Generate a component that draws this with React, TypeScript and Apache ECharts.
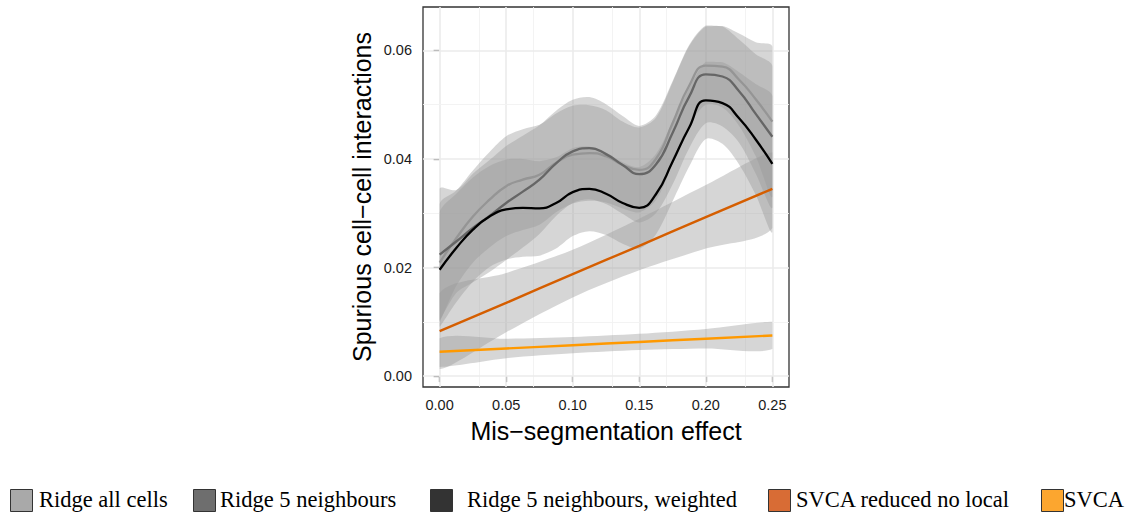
import React, { useEffect, useRef } from "react";
import * as echarts from "echarts";

// ---- data ----
const X = [0, 0.0125, 0.025, 0.0375, 0.05, 0.0625, 0.075, 0.0875, 0.1, 0.1125, 0.125, 0.1375, 0.15, 0.1625, 0.175, 0.1875, 0.2, 0.2125, 0.225, 0.2375, 0.25];

const ridgeAllFit = [0.0209, 0.0254, 0.0294, 0.0325, 0.035, 0.0362, 0.0371, 0.0393, 0.0408, 0.0411, 0.0405, 0.0389, 0.038, 0.04, 0.0466, 0.0535, 0.0572, 0.057, 0.0546, 0.051, 0.0469];
const ridgeAllHi = [0.0317, 0.0342, 0.0379, 0.0413, 0.0442, 0.0455, 0.0463, 0.0484, 0.0498, 0.0499, 0.049, 0.0469, 0.0458, 0.0476, 0.0541, 0.0608, 0.0644, 0.0645, 0.0631, 0.0615, 0.0607];
const ridgeAllLo = [0.0101, 0.0166, 0.0209, 0.0237, 0.0258, 0.0269, 0.0279, 0.0302, 0.0318, 0.0323, 0.032, 0.0309, 0.0302, 0.0324, 0.0391, 0.0462, 0.05, 0.0495, 0.0461, 0.0405, 0.0331];

const ridge5Fit = [0.0224, 0.0248, 0.0273, 0.0295, 0.0319, 0.034, 0.0362, 0.0392, 0.0414, 0.042, 0.0409, 0.0389, 0.0372, 0.039, 0.0448, 0.0515, 0.0556, 0.0552, 0.0525, 0.0483, 0.0441];
const ridge5Hi = [0.0345, 0.0343, 0.0373, 0.0398, 0.0424, 0.0443, 0.0462, 0.0489, 0.0509, 0.0514, 0.0501, 0.0479, 0.0461, 0.048, 0.0543, 0.061, 0.0646, 0.0644, 0.062, 0.0593, 0.0571];
const ridge5Lo = [0.0103, 0.0153, 0.0173, 0.0192, 0.0214, 0.0237, 0.0262, 0.0295, 0.0319, 0.0326, 0.0317, 0.0299, 0.0283, 0.03, 0.0353, 0.042, 0.0466, 0.046, 0.043, 0.0373, 0.0311];

const ridge5wFit = [0.0196, 0.0236, 0.027, 0.0294, 0.0307, 0.031, 0.0309, 0.0319, 0.0339, 0.0345, 0.0336, 0.0319, 0.031, 0.0335, 0.0395, 0.0458, 0.0508, 0.0503, 0.0475, 0.0436, 0.0391];
const ridge5wHi = [0.0301, 0.0336, 0.0366, 0.0387, 0.0399, 0.04, 0.0396, 0.0403, 0.042, 0.0423, 0.0412, 0.0394, 0.0385, 0.0409, 0.0468, 0.053, 0.0579, 0.0578, 0.056, 0.0538, 0.0516];
const ridge5wLo = [0.0091, 0.0136, 0.0174, 0.0201, 0.0215, 0.022, 0.0222, 0.0235, 0.0258, 0.0267, 0.026, 0.0244, 0.0235, 0.0261, 0.0322, 0.0386, 0.0437, 0.0428, 0.039, 0.0334, 0.0266];

const XL = [0, 0.05, 0.1, 0.15, 0.2, 0.25];
const svcaRedFit = [0.0083, 0.0135, 0.0188, 0.024, 0.0293, 0.0345];
const svcaRedHi = [0.0153, 0.019, 0.0233, 0.029, 0.0352, 0.0412];
const svcaRedLo = [0.0013, 0.0081, 0.0145, 0.0195, 0.0235, 0.0273];

const svcaFit = [0.0045, 0.0051, 0.0057, 0.0063, 0.0069, 0.0075];
const svcaHi = [0.007, 0.0069, 0.0072, 0.0078, 0.0087, 0.01];
const svcaLo = [0.0017, 0.0033, 0.0042, 0.0048, 0.0051, 0.005];

const xTicks = [0, 0.05, 0.1, 0.15, 0.2, 0.25];
const xMinor = [0.025, 0.075, 0.125, 0.175, 0.225];
const yTicks = [0, 0.02, 0.04, 0.06];
const yMinor = [0.01, 0.03, 0.05];

const legendNames = ["Ridge all cells", "Ridge 5 neighbours", "Ridge 5 neighbours, weighted", "SVCA reduced no local", "SVCA"];
const legendFills = ["#a9a9a9", "#6e6e6e", "#333333", "#d86c35", "#fca62f"];
const legendKeyX = [10, 193, 430, 768, 1041];
const legendTextX = [39, 220, 467, 796, 1064];

const SANS = "'Liberation Sans', Arial, Helvetica, sans-serif";
const SERIF = "'Liberation Serif', 'Times New Roman', serif";

function bandSeries(id: string, xs: number[], lo: number[], hi: number[]) {
  return {
    type: "custom",
    id,
    silent: true,
    z: 2,
    clip: true,
    encode: { x: 0, y: 1 },
    data: xs.map((x, i) => [x, lo[i], hi[i]]),
    renderItem: (params: any, api: any) => {
      if (params.dataIndex !== 0) return { type: "group", children: [] };
      const pts: number[][] = [];
      for (let i = 0; i < xs.length; i++) pts.push(api.coord([xs[i], lo[i]]));
      for (let i = xs.length - 1; i >= 0; i--) pts.push(api.coord([xs[i], hi[i]]));
      let minX = Infinity, minY = Infinity, maxX = -Infinity, maxY = -Infinity;
      pts.forEach((p) => {
        minX = Math.min(minX, p[0]);
        maxX = Math.max(maxX, p[0]);
        minY = Math.min(minY, p[1]);
        maxY = Math.max(maxY, p[1]);
      });
      return {
        type: "polygon",
        shape: { points: pts, smooth: 0.3, smoothConstraint: [[minX, minY], [maxX, maxY]] },
        style: { fill: "rgba(153,153,153,0.4)" },
      };
    },
  };
}

function fitSeries(id: string, xs: number[], ys: number[], color: string, width: number) {
  return {
    type: "line",
    id,
    smooth: 0.5,
    symbol: "none",
    silent: true,
    z: 4,
    lineStyle: { color, width },
    data: xs.map((x, i) => [x, ys[i]]),
  };
}

export default function App() {
  const ref = useRef<HTMLDivElement>(null);
  useEffect(() => {
    if (!ref.current) return;
    const chart = echarts.init(ref.current, undefined, { renderer: "svg" });

    const gridLines = [
      ...xTicks.map((v) => ({ xAxis: v, lineStyle: { color: "#ebebeb", width: 1.6, type: "solid" } })),
      ...xMinor.map((v) => ({ xAxis: v, lineStyle: { color: "#f2f2f2", width: 0.9, type: "solid" } })),
      ...yTicks.map((v) => ({ yAxis: v, lineStyle: { color: "#ebebeb", width: 1.6, type: "solid" } })),
      ...yMinor.map((v) => ({ yAxis: v, lineStyle: { color: "#f2f2f2", width: 0.9, type: "solid" } })),
    ];

    const graphic: any[] = [];
    legendNames.forEach((name, i) => {
      graphic.push({
        type: "rect",
        left: legendKeyX[i],
        top: 489,
        shape: { width: 22, height: 22 },
        style: { fill: legendFills[i], stroke: "#333333", lineWidth: 1 },
      });
      graphic.push({
        type: "text",
        left: legendTextX[i],
        top: 488,
        style: { text: name, fill: "#000000", font: `22.5px ${SERIF}` },
      });
    });

    chart.setOption({
      animation: false,
      backgroundColor: "#ffffff",
      grid: {
        left: 423,
        top: 7,
        right: 345,
        bottom: 129,
        show: true,
        backgroundColor: "#ffffff",
        borderColor: "#333333",
        borderWidth: 1.3,
      },
      xAxis: {
        type: "value",
        min: -0.0125,
        max: 0.2625,
        splitLine: { show: false },
        axisLine: { show: false },
        axisTick: { show: true, length: 6, lineStyle: { color: "#333333", width: 1.2 }, customValues: xTicks },
        axisLabel: {
          customValues: xTicks,
          formatter: (v: number) => v.toFixed(2),
          color: "#1a1a1a",
          fontSize: 14.5,
          margin: 10,
          fontFamily: SANS,
        },
        name: "Mis\u2212segmentation effect",
        nameLocation: "middle",
        nameGap: 31,
        nameTextStyle: { fontSize: 25, color: "#000000", fontFamily: SANS },
      },
      yAxis: {
        type: "value",
        min: -0.002,
        max: 0.068,
        splitLine: { show: false },
        axisLine: { show: false },
        axisTick: { show: true, length: 6, lineStyle: { color: "#333333", width: 1.2 }, customValues: yTicks },
        axisLabel: {
          customValues: yTicks,
          formatter: (v: number) => v.toFixed(2),
          color: "#1a1a1a",
          fontSize: 14.5,
          margin: 11,
          fontFamily: SANS,
        },
        name: "Spurious cell\u2212cell interactions",
        nameLocation: "middle",
        nameGap: 49,
        nameTextStyle: { fontSize: 25, color: "#000000", fontFamily: SANS },
      },
      graphic,
      series: [
        {
          type: "line",
          id: "gridlines",
          data: [],
          silent: true,
          z: 1,
          markLine: {
            z: 1,
            silent: true,
            symbol: "none",
            label: { show: false },
            animation: false,
            data: gridLines,
          },
        },
        bandSeries("allBand", X, ridgeAllLo, ridgeAllHi),
        bandSeries("n5Band", X, ridge5Lo, ridge5Hi),
        bandSeries("n5wBand", X, ridge5wLo, ridge5wHi),
        bandSeries("redBand", XL, svcaRedLo, svcaRedHi),
        bandSeries("svcaBand", XL, svcaLo, svcaHi),
        fitSeries("allFit", X, ridgeAllFit, "#959595", 2.3),
        fitSeries("n5Fit", X, ridge5Fit, "#666666", 2.3),
        fitSeries("n5wFit", X, ridge5wFit, "#000000", 2.3),
        fitSeries("redFit", XL, svcaRedFit, "#d55e00", 2.4),
        fitSeries("svcaFit", XL, svcaFit, "#ff9900", 2.4),
      ],
    });
    return () => chart.dispose();
  }, []);
  return <div ref={ref} style={{ position: "absolute", left: 0, top: 0, width: 1134, height: 516 }} />;
}
